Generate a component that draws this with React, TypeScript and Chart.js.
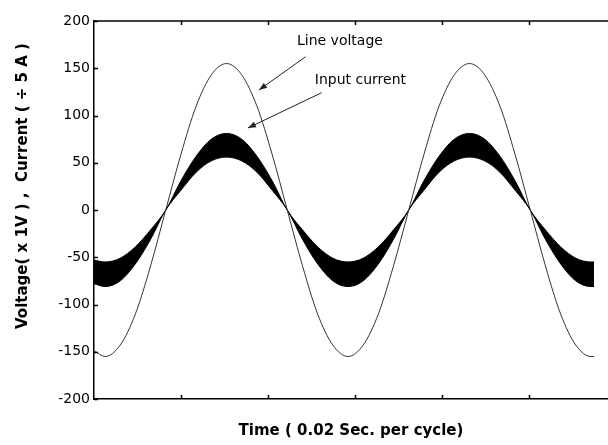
import React, { useEffect, useRef } from "react";
import { Chart, registerables } from "chart.js";

Chart.register(...registerables);

// Time axis (tick units, 1 unit = one bottom tick interval)
const timeX = [
  0, 0.127, 0.301, 0.476, 0.651, 0.825, 1.0, 1.175, 1.349, 1.524, 1.698, 1.873,
  2.048, 2.222, 2.397, 2.571, 2.746, 2.921, 3.095, 3.27, 3.444, 3.619, 3.794,
  3.968, 4.143, 4.317, 4.492, 4.667, 4.841, 5.016, 5.19, 5.365, 5.54, 5.714, 5.75,
];

// Line voltage (x 1V)
const lineVoltage = [
  -149, -155, -143, -110, -59, 0, 59, 110, 143, 155, 143, 110, 59, 0, -59, -110,
  -143, -155, -143, -110, -59, 0, 59, 110, 143, 155, 143, 110, 59, 0, -59, -110,
  -143, -155, -155,
];

// Input current (÷ 5 A) ripple band: upper and lower envelopes
const currentUpper = [
  -53, -55, -51, -39, -21, 0, 31, 57, 75, 81, 75, 57, 31, 0, -21, -39, -51, -55,
  -51, -39, -21, 0, 31, 57, 75, 81, 75, 57, 31, 0, -21, -39, -51, -55, -55,
];
const currentLower = [
  -78, -81, -75, -57, -31, 0, 21, 40, 52, 56, 52, 40, 21, 0, -31, -57, -75, -81,
  -75, -57, -31, 0, 21, 40, 52, 56, 52, 40, 21, 0, -31, -57, -75, -81, -81,
];

const yTickValues = [-200, -150, -100, -50, 0, 50, 100, 150, 200];
const xTickValues = [1, 2, 3, 4, 5];
const xMin = 0;
const xMax = 5.91;

const xTitle = "Time ( 0.02 Sec. per cycle)";
const yTitle = "Voltage( x 1V ) ,  Current ( \u00F7 5 A )";

// Annotations (data coordinates)
const labelTexts = ["Line voltage", "Input current"];
const labelX = [2.828, 3.063];
const labelY = [178.8, 137.6];
const arrowFromX = [2.433, 2.617];
const arrowFromY = [162.2, 124.1];
const arrowToX = [1.897, 1.77];
const arrowToY = [127, 86.8];

const FONT = "'DejaVu Sans', sans-serif";

const decorPlugin = {
  id: "decor",
  afterDraw(chart: any) {
    const { ctx, chartArea } = chart;
    const xs = chart.scales.x;
    const ys = chart.scales.y;
    ctx.save();
    ctx.strokeStyle = "#000";
    ctx.fillStyle = "#000";
    // top border
    ctx.lineWidth = 1.5;
    ctx.beginPath();
    ctx.moveTo(chartArea.left, chartArea.top);
    ctx.lineTo(chartArea.right, chartArea.top);
    ctx.stroke();
    // inward ticks
    ctx.lineWidth = 1.5;
    const tl = 4;
    ctx.beginPath();
    for (const v of xTickValues) {
      const px = Math.round(xs.getPixelForValue(v)) + 0.5;
      ctx.moveTo(px, chartArea.bottom);
      ctx.lineTo(px, chartArea.bottom - tl);
      ctx.moveTo(px, chartArea.top);
      ctx.lineTo(px, chartArea.top + tl);
    }
    for (const v of yTickValues) {
      const py = Math.round(ys.getPixelForValue(v)) + 0.5;
      ctx.moveTo(chartArea.left, py);
      ctx.lineTo(chartArea.left + tl, py);
    }
    ctx.stroke();

    // y title
    ctx.save();
    ctx.font = `bold 15px ${FONT}`;
    ctx.textAlign = "center";
    ctx.textBaseline = "middle";
    ctx.translate(23.5, 186);
    ctx.rotate(-Math.PI / 2);
    ctx.fillText(yTitle, 0, 0);
    ctx.restore();

    // annotation labels
    ctx.font = `14px ${FONT}`;
    ctx.textAlign = "center";
    ctx.textBaseline = "middle";
    labelTexts.forEach((t, i) => {
      ctx.fillText(t, xs.getPixelForValue(labelX[i]), ys.getPixelForValue(labelY[i]));
    });

    // arrows
    ctx.lineWidth = 1;
    ctx.strokeStyle = "#222";
    ctx.fillStyle = "#222";
    arrowFromX.forEach((_, i) => {
      const x1 = xs.getPixelForValue(arrowFromX[i]);
      const y1 = ys.getPixelForValue(arrowFromY[i]);
      const x2 = xs.getPixelForValue(arrowToX[i]);
      const y2 = ys.getPixelForValue(arrowToY[i]);
      ctx.beginPath();
      ctx.moveTo(x1, y1);
      ctx.lineTo(x2, y2);
      ctx.stroke();
      const ang = Math.atan2(y2 - y1, x2 - x1);
      const L = 8;
      const W = 3;
      ctx.beginPath();
      ctx.moveTo(x2, y2);
      ctx.lineTo(
        x2 - L * Math.cos(ang) + W * Math.sin(ang),
        y2 - L * Math.sin(ang) - W * Math.cos(ang)
      );
      ctx.lineTo(
        x2 - L * Math.cos(ang) - W * Math.sin(ang),
        y2 - L * Math.sin(ang) + W * Math.cos(ang)
      );
      ctx.closePath();
      ctx.fill();
    });
    ctx.restore();
  },
};

export default function App() {
  const canvasRef = useRef<HTMLCanvasElement | null>(null);

  useEffect(() => {
    const canvas = canvasRef.current;
    if (!canvas) return;
    const pts = (ys: number[]) => timeX.map((x, i) => ({ x, y: ys[i] }));
    const chart = new Chart(canvas, {
      type: "line",
      data: {
        datasets: [
          {
            label: "Line voltage",
            data: pts(lineVoltage),
            borderColor: "#333",
            borderWidth: 1,
            pointRadius: 0,
            fill: false,
            cubicInterpolationMode: "monotone",
          },
          {
            label: "Input current upper",
            data: pts(currentUpper),
            borderColor: "#000",
            backgroundColor: "#000",
            borderWidth: 1,
            pointRadius: 0,
            fill: "+1",
            cubicInterpolationMode: "monotone",
          },
          {
            label: "Input current lower",
            data: pts(currentLower),
            borderColor: "#000",
            borderWidth: 1,
            pointRadius: 0,
            fill: false,
            cubicInterpolationMode: "monotone",
          },
        ],
      },
      options: {
        animation: false,
        responsive: false,
        devicePixelRatio: 1,
        layout: { padding: { top: 21, right: 0, left: 0, bottom: 0 } },
        plugins: {
          legend: { display: false },
          tooltip: { enabled: false },
        },
        scales: {
          x: {
            type: "linear",
            min: xMin,
            max: xMax,
            grid: { display: false, drawTicks: false },
            border: { display: true, color: "#000", width: 1.5 },
            ticks: { display: false, stepSize: 1 },
            title: {
              display: true,
              text: xTitle,
              color: "#000",
              font: { family: FONT, size: 15, weight: "bold" },
              padding: { top: 0, bottom: 5 },
            },
            afterFit: (s: any) => {
              s.height = 46;
            },
          },
          y: {
            type: "linear",
            min: -200,
            max: 200,
            grid: { display: false, drawTicks: false },
            border: { display: true, color: "#000", width: 1.5 },
            ticks: {
              stepSize: 50,
              color: "#000",
              padding: 4,
              font: { family: FONT, size: 14 },
            },
            afterFit: (s: any) => {
              s.width = 94;
            },
          },
        },
      },
      plugins: [decorPlugin],
    } as any);
    return () => chart.destroy();
  }, []);

  return (
    <div style={{ position: "absolute", left: 0, top: 0, width: 608, height: 445, background: "#fff" }}>
      <canvas ref={canvasRef} width={608} height={445} style={{ display: "block" }} />
    </div>
  );
}
